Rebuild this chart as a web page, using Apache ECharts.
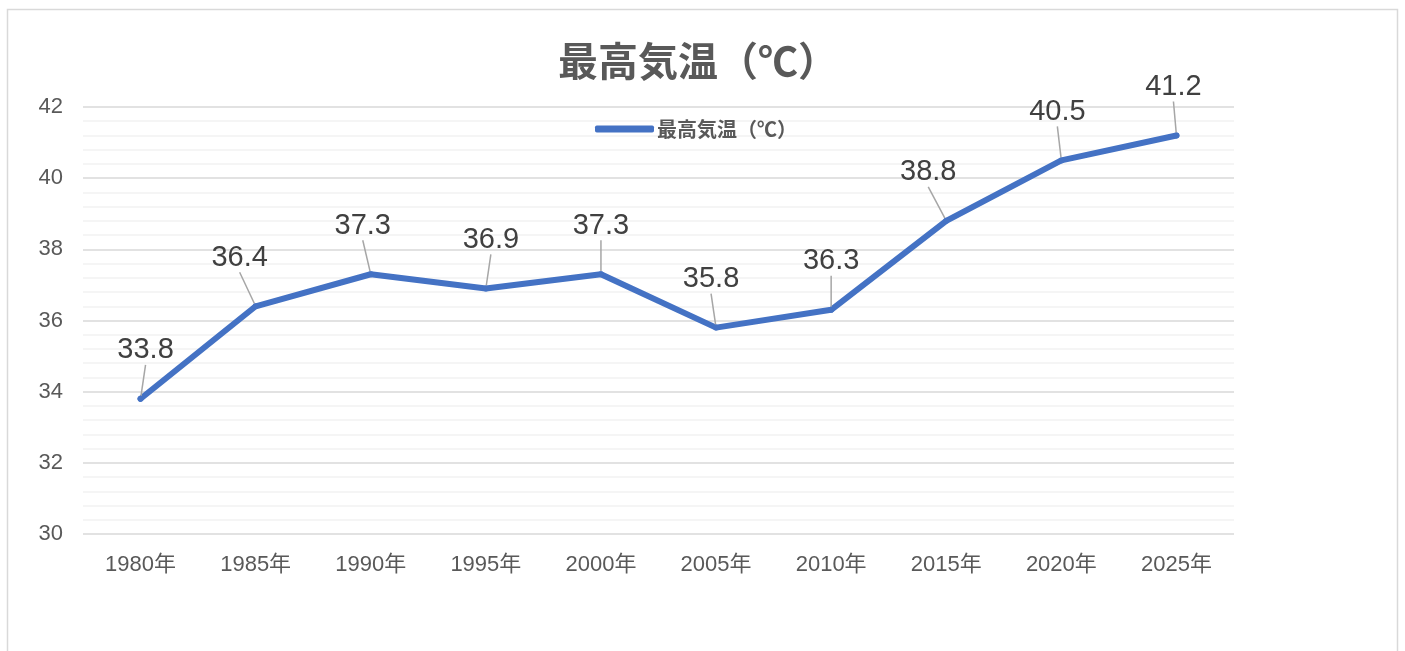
<!DOCTYPE html>
<html>
<head>
<meta charset="utf-8">
<script src="https://cdn.jsdelivr.net/npm/echarts@6/dist/echarts.min.js"></script>
<style>
html,body{margin:0;padding:0;background:#fff;}
#c{width:1405px;height:651px;}
</style>
</head>
<body>
<div id="c"></div>
<script>
const titleText = '最高気温（℃）';
const seriesName = '最高気温（℃）';
const categories = ['1980年','1985年','1990年','1995年','2000年','2005年','2010年','2015年','2020年','2025年'];
const values = [33.8, 36.4, 37.3, 36.9, 37.3, 35.8, 36.3, 38.8, 40.5, 41.2];
const yMin = 30, yMax = 42, yStep = 2;
// horizontal nudges of the data labels (px), as placed in the reference
const labelNudge = [5, -16, -8, 5, 0, -5, 0, -18, -4, -3];

const FONT = "'Liberation Sans', Arial, 'Noto Sans CJK JP', sans-serif";
const chart = echarts.init(document.getElementById('c'), null, {renderer: 'canvas'});
chart.setOption({
  backgroundColor: '#ffffff',
  animation: false,
  graphic: [{
    type: 'rect', shape: {x: 7.5, y: 9.5, width: 1390, height: 700},
    style: {fill: 'none', stroke: '#d9d9d9', lineWidth: 1.5}, silent: true, z: -1
  }],
  title: {
    text: titleText, left: 553, top: 36,
    textStyle: {fontFamily: "'Noto Sans CJK JP', sans-serif", fontSize: 40, fontWeight: 'bold', color: '#595959'}
  },
  legend: {
    data: [seriesName], left: 590, top: 114,
    icon: 'roundRect', itemWidth: 59, itemHeight: 7, itemGap: 4,
    textStyle: {fontFamily: "'Noto Sans CJK JP', sans-serif", fontSize: 20, fontWeight: 'bold', color: '#595959', padding: [0,0,0,-2]}
  },
  grid: {left: 83, right: 171, top: 107, bottom: 117, containLabel: false},
  xAxis: {
    type: 'category', data: categories, boundaryGap: true,
    axisLine: {show: false}, axisTick: {show: false},
    axisLabel: {fontFamily: FONT, fontSize: 22, color: '#595959', margin: 20}
  },
  yAxis: {
    type: 'value', min: yMin, max: yMax, interval: yStep,
    axisLine: {show: false}, axisTick: {show: false},
    axisLabel: {fontFamily: FONT, fontSize: 22, color: '#595959', margin: 20},
    splitLine: {show: true, lineStyle: {color: '#d9d9d9', width: 1.5}},
    minorTick: {show: false, splitNumber: 5},
    minorSplitLine: {show: true, lineStyle: {color: '#f2f2f2', width: 1.5}}
  },
  series: [{
    name: seriesName, type: 'line', data: values,
    symbol: 'circle', symbolSize: 6, showSymbol: true,
    lineStyle: {color: '#4472C4', width: 6, cap: 'round', join: 'round'},
    itemStyle: {color: '#4472C4'},
    label: {
      show: true, position: 'top', distance: 5,
      fontFamily: FONT, fontSize: 29, color: '#404040'
    },
    labelLayout: function (p) { return {dx: labelNudge[p.dataIndex], dy: -26}; },
    labelLine: {show: true, lineStyle: {color: '#a6a6a6', width: 1.5}}
  }]
});
</script>
</body>
</html>
